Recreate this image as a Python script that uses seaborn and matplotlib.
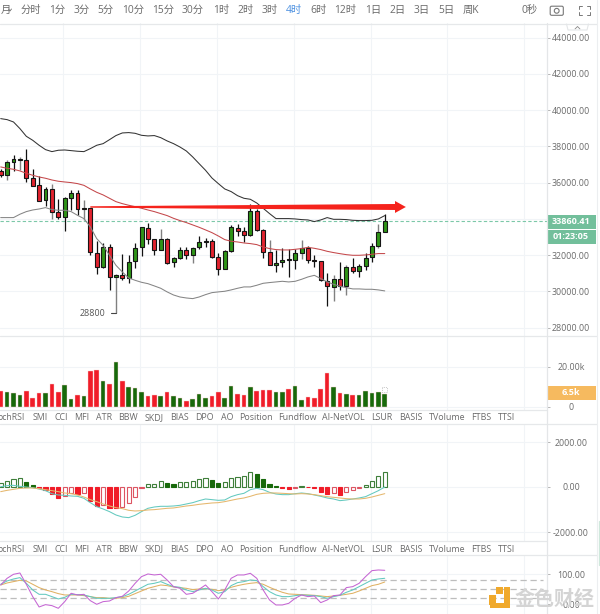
import numpy as np
import pandas as pd
import matplotlib
matplotlib.use("Agg")
import matplotlib.pyplot as plt
from matplotlib.patches import Rectangle, FancyBboxPatch, Circle
import seaborn as sns

sns.set_theme(style="white")
plt.rcParams["font.family"] = ["Open Sans", "Noto Sans CJK SC", "DejaVu Sans"]

# candles
opens = [36630, 36427, 37163, 37255, 37273, 36262, 35857, 35030, 35673, 34405,
         34110, 35159, 35434, 34607, 34625, 32143, 31352, 32437, 30819, 30910,
         30763, 31683, 32437, 33522, 32915, 32308, 32915, 31609, 31848, 32308,
         32032, 32437, 32749, 32805, 31922, 31260, 32253, 33522, 33356, 33136,
         34460, 33393, 32198, 31481, 31609, 31756, 31738, 32143, 32418, 31757,
         31701, 30579, 30267, 30708, 30304, 31370, 31150, 31425, 31885, 32510, 33301]
highs = [36777, 37273, 37512, 37421, 37843, 36740, 36354, 35765, 35913, 35122,
         35214, 35582, 35582, 35030, 34625, 32768, 32676, 32639, 30984, 32051,
         31995, 32694, 33559, 33779, 32915, 33430, 32970, 31904, 32455, 32455,
         32455, 33081, 32970, 32915, 32124, 32271, 33651, 33743, 33559, 34846,
         34570, 33430, 32823, 32271, 32418, 32327, 32363, 32860, 32492, 31995,
         31701, 31021, 30892, 31609, 31444, 31848, 31536, 32143, 32694, 33706, 34276]
lows = [36317, 36133, 36648, 36685, 36041, 35802, 34993, 34717, 34000, 34000,
        33338, 34515, 34202, 33926, 31995, 30984, 31297, 30065, 28800, 30616,
        30469, 31315, 31959, 32602, 32032, 32271, 31536, 31352, 31775, 31775,
        31573, 32345, 32455, 31867, 30892, 31242, 32179, 33044, 32731, 33044,
        33338, 31867, 31444, 31076, 31352, 30800, 31260, 31812, 31573, 31352,
        30561, 29219, 29476, 30065, 29825, 31021, 30800, 31168, 31628, 32400, 33301]
closes = [36446, 37163, 37292, 37310, 36280, 35839, 35011, 35673, 34405, 34110,
          35159, 35434, 34552, 34552, 32161, 31352, 32437, 30819, 30929, 30763,
          31646, 32418, 33540, 32915, 32308, 32915, 31591, 31867, 32308, 32032,
          32418, 32749, 32805, 31922, 31260, 32253, 33540, 33338, 33136, 34460,
          33393, 32198, 31481, 31591, 31756, 31775, 32143, 32418, 31720, 31701,
          30653, 30285, 30708, 30304, 31370, 31150, 31425, 31867, 32529, 33301, 33860]
gray_wicks = [1, 3, 8, 13, 18, 25, 30, 42, 47, 52, 54, 59]

# bollinger bands
boll_upper = [39535, 39480, 39350, 38985, 38560, 38340, 38065, 37825, 37715, 37790,
              37805, 37770, 37735, 37715, 37880, 38065, 38155, 38375, 38600, 38745,
              38765, 38725, 38615, 38580, 38600, 38485, 38305, 38155, 37970, 37750,
              37420, 37050, 36685, 36260, 35950, 35655, 35510, 35285, 35140, 35085,
              34880, 34590, 34295, 34020, 34020, 34020, 34000, 33965, 33945, 33855,
              33945, 34075, 33980, 33980, 33965, 33925, 33910, 33910, 33925, 34000, 34185]
boll_mid = [36870, 36795, 36740, 36650, 36520, 36410, 36315, 36245, 36150, 36080,
            36040, 36005, 35950, 35855, 35655, 35470, 35325, 35140, 34955, 34845,
            34755, 34680, 34590, 34495, 34405, 34295, 34185, 34035, 33910, 33800,
            33670, 33540, 33395, 33245, 33060, 32860, 32770, 32730, 32675, 32640,
            32585, 32455, 32365, 32310, 32290, 32290, 32325, 32365, 32435, 32380,
            32310, 32215, 32145, 32085, 32030, 31995, 31995, 32015, 32050, 32090, 32090]
boll_lower = [34075, 34075, 34075, 34260, 34405, 34495, 34550, 34625, 34515, 34480,
              34480, 34405, 34200, 34020, 33560, 32915, 32545, 31995, 31445, 31075,
              30745, 30615, 30505, 30430, 30305, 30175, 29975, 29805, 29695, 29640,
              29605, 29695, 29825, 29935, 29975, 30010, 30085, 30175, 30250, 30250,
              30340, 30450, 30490, 30525, 30560, 30525, 30560, 30670, 30800, 30890,
              30710, 30525, 30395, 30285, 30210, 30140, 30140, 30120, 30120, 30085, 30030]

# volume, in thousands
volume = [8.0, 7.3, 6.7, 6.0, 8.0, 4.7, 7.0, 6.7, 11.3, 7.5,
          11.0, 3.8, 6.0, 5.5, 17.8, 18.5, 13.0, 11.3, 22.5, 12.7,
          10.0, 9.3, 7.5, 5.5, 6.0, 5.5, 7.5, 5.3, 4.3, 3.0,
          4.2, 6.3, 4.5, 5.5, 7.5, 4.5, 10.3, 6.3, 6.0, 10.0,
          7.8, 8.2, 8.5, 7.5, 7.5, 8.8, 10.3, 3.5, 4.8, 4.5,
          8.8, 16.7, 10.0, 6.8, 6.3, 6.0, 6.0, 7.7, 7.0, 7.5, 6.5]
volume_side = list("rgggrrrgrr" "ggrgrrgrgr" "gggrrgrggr" "gggrrggrrg" "rrrggrggrr" "rrgrgrggggg")

# macd
macd_hist = [160, 266, 340, 385, 237, 89, -59, -118, -326, -474,
             -385, -266, -296, -285, -607, -829, -800, -918, -947, -903,
             -725, -430, -40, 118, 148, 252, 163, 155, 207, 215,
             281, 340, 385, 296, 192, 222, 400, 459, 503, 651,
             592, 370, 133, 59, -44, -89, -59, 44, -20, -30,
             -207, -296, -270, -340, -207, -133, -44, 100, 281, 488, 651]
macd_dif = [15, 59, 74, 30, 0, -30, -89, -163, -296, -355,
            -370, -400, -414, -503, -696, -873, -977, -1095, -1243, -1332,
            -1362, -1258, -1095, -947, -888, -858, -858, -844, -814, -755,
            -696, -607, -533, -562, -592, -577, -429, -340, -281, -118,
            -59, -118, -237, -311, -340, -340, -296, -266, -296, -355,
            -414, -488, -533, -607, -577, -533, -488, -429, -296, -163, 0]
macd_dea = [-207, -148, -104, -59, -44, -44, -74, -118, -163, -207,
            -266, -296, -355, -444, -562, -651, -755, -844, -918, -962,
            -1036, -1066, -1051, -1021, -1006, -977, -947, -932, -888, -844,
            -814, -770, -740, -710, -696, -651, -592, -533, -488, -414,
            -326, -281, -266, -266, -281, -296, -311, -296, -311, -340,
            -385, -429, -459, -488, -518, -533, -533, -503, -444, -370, -296]

# kdj
kdj_j = [64.4, 86.7, 100, 104.4, 66.7, 25.6, -8.9, -1.1, -4.4, -13.3,
         8.9, 36.7, 31.1, 33.3, 12.2, 0, 8.9, 11.1, 22.2, 26.7,
         44.4, 70, 92.2, 101.1, 97.8, 100, 81.1, 58.9, 53.3, 33.3,
         36.7, 50, 64.4, 42.2, 17.8, 47.8, 86.7, 97.8, 97.8, 103.3,
         86.7, 47.8, 14.4, -2.2, -2.2, 3.3, 20, 31.1, 25.6, 27.8,
         5.6, 14.4, 28.9, 31.1, 55.6, 58.9, 70, 92.2, 112.2, 114.4, 113.3]
kdj_k = [66.7, 77.8, 84.4, 88.9, 70, 47.8, 33.3, 33.3, 25.6, 17.8,
         23.3, 33.3, 32.2, 31.1, 25.6, 20, 20, 20, 22.2, 25.6,
         33.3, 44.4, 55.6, 66.7, 70, 75.6, 66.7, 58.9, 56.7, 47.8,
         42.2, 47.8, 53.3, 47.8, 36.7, 42.2, 62.2, 72.2, 75.6, 81.1,
         78.9, 58.9, 42.2, 31.1, 25.6, 25.6, 28.9, 31.1, 30, 28.9,
         25.6, 20, 25.6, 30, 40, 47.8, 58.9, 70, 81.1, 84.4, 86.7]
kdj_d = [64.4, 71.1, 75.6, 80, 77.8, 66.7, 55.6, 47.8, 42.2, 35.6,
         31.1, 31.1, 31.1, 28.9, 25.6, 22.2, 22.2, 20, 20, 22.2,
         26.7, 35.6, 44.4, 53.3, 58.9, 64.4, 62.2, 57.8, 55.6, 53.3,
         48.9, 51.1, 52.2, 50, 45.6, 47.8, 56.7, 62.2, 66.7, 70,
         72.2, 66.7, 56.7, 47.8, 40, 34.4, 33.3, 32.2, 31.1, 30,
         27.8, 25.6, 27.8, 30, 33.3, 36.7, 44.4, 53.3, 62.2, 66.7, 74.4]

# 34000 sits behind the last price tag, so it only gets a grid line
price_ticks = [28000, 30000, 32000, 36000, 38000, 40000, 42000, 44000]
price_grid = [28000, 30000, 32000, 34000, 36000, 38000, 40000, 42000, 44000]
last_price = 33860.41
low_label = 28800

toolbar = [("分时", 30.5), ("1分", 57), ("3分", 81.5), ("5分", 105.5), ("10分", 133),
           ("15分", 163), ("30分", 193), ("1时", 221.5), ("2时", 245.5), ("3时", 269.5),
           ("4时", 294), ("6时", 318.5), ("12时", 345.5), ("1日", 373), ("2日", 397.5),
           ("3日", 421.5), ("5日", 446), ("周K", 471), ("0秒", 530)]
tabs = [("SMI", 40), ("CCI", 61), ("MFI", 82), ("ATR", 103.7), ("BBW", 128.3),
        ("SKDJ", 154), ("BIAS", 179.3), ("DPO", 204.3), ("AO", 226.7), ("Position", 256),
        ("Fundflow", 297.7), ("AI-NetVOL", 343.7), ("LSUR", 382), ("BASIS", 411),
        ("TVolume", 446.7), ("FTBS", 481), ("TTSI", 506)]

idx = np.arange(len(closes))
df = pd.DataFrame({"idx": idx, "upper": boll_upper, "mid": boll_mid, "lower": boll_lower,
                   "vol": np.array(volume) * 1000, "side": volume_side,
                   "dif": macd_dif, "dea": macd_dea, "k": kdj_k, "d": kdj_d, "j": kdj_j})

W, H = 600, 614
AX_W = 546.7
GREEN, RED = "#2f9418", "#e2232f"
DARK_GREEN, BAR_RED = "#17690a", "#f01c28"
GRID = "#f1f4f7"
TEXT = "#6b6b6b"
LW = 0.75

fig = plt.figure(figsize=(W / 100, H / 100), dpi=100, facecolor="white")


def panel(top, bottom, ylim, ticks, labels, grid_ticks=None):
    ax = fig.add_axes([0, 1 - bottom / H, AX_W / W, (bottom - top) / H])
    ax.set_xlim(-0.11, 85.3)
    ax.set_ylim(*ylim)
    ax.set_yticks(ticks, labels=labels)
    ax.yaxis.tick_right()
    ax.tick_params(axis="y", length=2.2, width=0.7, color="#b5b5b5", pad=15.3,
                   labelsize=6.4, labelcolor=TEXT)
    for t in ax.get_yticklabels():
        t.set_ha("center")
    ax.set_xticks([])
    for s in ax.spines.values():
        s.set_visible(False)
    for g in np.arange(9.78, 85, 12):
        ax.axvline(g, color=GRID, lw=0.8, zorder=0)
    for g in (grid_ticks if grid_ticks is not None else ticks):
        ax.axhline(g, color=GRID, lw=0.8, zorder=0)
    return ax


# price panel
ax = panel(23, 337, (27487, 44811), price_ticks, [f"{p:.2f}" for p in price_ticks], price_grid)
ax.vlines([i for i in idx if i not in gray_wicks], [lows[i] for i in idx if i not in gray_wicks],
          [highs[i] for i in idx if i not in gray_wicks], color="#111111", lw=0.9, zorder=3)
ax.vlines(gray_wicks, [lows[i] for i in gray_wicks], [highs[i] for i in gray_wicks],
          color="#808080", lw=1.0, zorder=3)
body_bottom = np.minimum(opens, closes)
body_height = np.abs(np.array(closes) - np.array(opens))
body_color = [GREEN if c >= o else RED for o, c in zip(opens, closes)]
ax.bar(idx, body_height, bottom=body_bottom, width=0.62, color=body_color,
       edgecolor="#151515", linewidth=0.8, zorder=4)
sns.lineplot(data=df, x="idx", y="upper", ax=ax, color="#333333", lw=LW, zorder=5)
sns.lineplot(data=df, x="idx", y="mid", ax=ax, color="#c4474a", lw=LW, zorder=5)
sns.lineplot(data=df, x="idx", y="lower", ax=ax, color="#858585", lw=LW, zorder=5)
ax.axhline(last_price, color="#7cc8a8", lw=0.8, ls=(0, (3, 2)), zorder=2)
ax.set_xlabel("")
ax.set_ylabel("")
ax.set_xlim(-0.11, 85.3)

# hand drawn arrow on the resistance level
ax.fill([14, 61.6, 61.6, 63.3, 61.6, 61.6, 14],
        [34620, 34495, 34330, 34660, 34990, 34825, 34700],
        color="#f5231c", lw=0, zorder=6)
ax.annotate(f"{low_label}", xy=(18, low_label), xytext=(-11, 0), textcoords="offset pixels",
            ha="right", va="center", fontsize=6.4, color="#555555", zorder=6)
ax.plot([17.2, 18], [low_label, low_label], color="#444444", lw=0.8, zorder=6)

# volume panel
ax_v = panel(336, 410, (-1490, 35200), [0, 20000], ["0", "20.00k"])
sns.barplot(data=df, x="idx", y="vol", hue="side", palette={"g": DARK_GREEN, "r": BAR_RED},
            native_scale=True, dodge=False, width=0.72, legend=False, ax=ax_v, saturation=1,
            edgecolor="#f7cfd0", linewidth=0.3, zorder=3)
ax_v.set_xlabel("")
ax_v.set_ylabel("")
ax_v.set_xlim(-0.11, 85.3)

# macd panel
ax_m = panel(424, 541, (-2400, 2800), [-2000, 0, 2000], ["-2000.00", "0.00", "2000.00"])
for i, h in enumerate(macd_hist):
    rising = i == 0 or h > macd_hist[i - 1]
    col = DARK_GREEN if h > 0 else BAR_RED
    ax_m.bar(i, h, width=0.64, zorder=3, facecolor="white" if rising else col,
             edgecolor=("#3f7f3a" if h > 0 else "#dd5562") if rising else col, linewidth=0.8)
sns.lineplot(data=df, x="idx", y="dif", ax=ax_m, color="#63c9bf", lw=LW, zorder=4)
sns.lineplot(data=df, x="idx", y="dea", ax=ax_m, color="#e5b76d", lw=LW, zorder=4)
ax_m.set_xlabel("")
ax_m.set_ylabel("")
ax_m.set_xlim(-0.11, 85.3)

# kdj panel
ax_k = panel(555, 614, (-32.3, 164.3), [0, 100], ["0.00", "100.00"])
for lvl in [20, 50, 80]:
    ax_k.plot([-0.11, 84.7], [lvl, lvl], color="#bdbdbd", lw=0.9, ls=(0, (5, 3)), zorder=1)
sns.lineplot(data=df, x="idx", y="d", ax=ax_k, color="#e0b163", lw=LW, zorder=3)
sns.lineplot(data=df, x="idx", y="k", ax=ax_k, color="#63c9bf", lw=LW, zorder=4)
sns.lineplot(data=df, x="idx", y="j", ax=ax_k, color="#c565d3", lw=LW, zorder=5)
ax_k.set_xlabel("")
ax_k.set_ylabel("")
ax_k.set_xlim(-0.11, 85.3)

# page furniture in pixel space
ov = fig.add_axes([0, 0, 1, 1], zorder=20)
ov.set_xlim(0, W)
ov.set_ylim(H, 0)
ov.axis("off")
ov.patch.set_alpha(0)

for y in [23.5, 336, 424, 555]:
    ov.plot([0, 597], [y, y], color="#e6e8ea", lw=0.9)
for y in [410, 541]:
    ov.plot([0, AX_W], [y, y], color="#e6e8ea", lw=0.9)
ov.plot([AX_W, AX_W], [23, H], color="#e4e6e8", lw=0.9)
ov.plot([596.8, 596.8], [0, H], color="#eceef0", lw=0.8)
ov.plot([598.6, 598.6], [521, 565], color="#cfe8dc", lw=0.9)

ov.text(0.5, 10, "月", ha="left", va="center", fontsize=7.4, color=TEXT)
ov.plot([8.5, 10, 11.5], [9, 11, 9], color=TEXT, lw=0.6)
for label, x in toolbar:
    ov.text(x, 10, label, ha="center", va="center", fontsize=7.4,
            color="#4a8fe0" if label == "4时" else TEXT)

# camera and fullscreen icons
ov.add_patch(FancyBboxPatch((550.5, 6.5), 12.5, 8.5, boxstyle="round,pad=0.3,rounding_size=1.5",
                            fc="none", ec="#777777", lw=0.8))
ov.add_patch(Circle((556.7, 10.8), 2.4, fc="none", ec="#777777", lw=0.8))
for cx, cy, dx, dy in [(578.5, 5.5, 1, 1), (589.5, 5.5, -1, 1), (578.5, 15, 1, -1), (589.5, 15, -1, -1)]:
    ov.plot([cx + 3 * dx, cx, cx], [cy, cy, cy + 3 * dy], color="#777777", lw=0.7)
ov.plot([575, 577.5, 580], [29, 26.5, 29], color="#888888", lw=0.6)
ov.plot([566.5, 568, 587, 588.5], [24, 30, 30, 24], color="#e4e6e8", lw=0.8)

# price tags
for top, height, col, label in [(215, 14, "#72bf9b", f"{last_price:.2f}"), (230, 13.7, "#72bf9b", "01:23:05"),
                                (386, 13.7, "#f6ba5f", "6.5k")]:
    ov.add_patch(Rectangle((AX_W, top), 49.5, height, fc=col, ec="none"))
    ov.text(571, top + height / 2, label, ha="center", va="center", fontsize=6.5,
            color="white", fontweight="bold")
ov.add_patch(Rectangle((382.3, 387.3), 4.2, 5, fc="none", ec="#9a9a9a", lw=0.5, ls=":"))

# indicator tabs
for y in [417, 548]:
    ov.text(25, y, "ochRSI", ha="right", va="center_baseline", fontsize=6.2, color=TEXT)
    for label, x in tabs:
        ov.text(x, y, label, ha="center", va="center_baseline", fontsize=6.4, color=TEXT)

# watermark
ov.add_patch(Rectangle((488.5, 595), 7, 9.5, fc="#f0a92c", ec="none"))
ov.add_patch(Rectangle((496, 587), 6.5, 6.5, fc="#f0a92c", ec="none"))
ov.add_patch(Rectangle((503.5, 587), 6.5, 21, fc="#f0a92c", ec="none"))
ov.add_patch(Rectangle((490, 602.5), 20, 5.5, fc="#f0a92c", ec="none"))
ov.text(555, 598, "金色财经", ha="center", va="center", fontsize=14.4, fontweight="bold",
        color="#d4d4d4", family=["Noto Sans CJK SC", "DejaVu Sans"])

fig.savefig("out.png", dpi=100)
